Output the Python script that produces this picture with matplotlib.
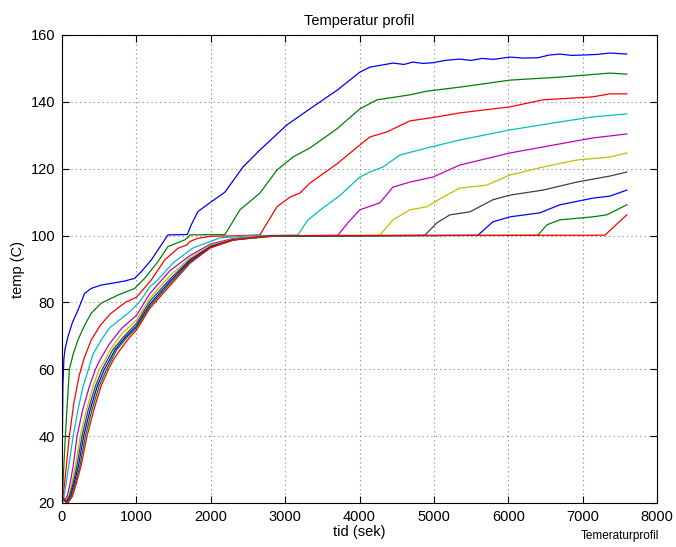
import numpy as np
import matplotlib
matplotlib.use('Agg')
import matplotlib.pyplot as plt

plt.rcParams['font.family'] = ['Liberation Sans', 'DejaVu Sans']

# temperature curves (time in s, temp in C)
t1 = [0, 5, 12, 25, 40, 81, 140, 215, 304, 394, 528, 663, 843, 977, 1066, 1200,
      1290, 1425, 1684, 1738, 1828, 2007, 2191, 2433, 2661, 3024, 3333, 3700, 4005,
      4140, 4300, 4449, 4600, 4718, 4850, 4987, 5150, 5349, 5500, 5650, 5800, 6022,
      6200, 6400, 6550, 6694, 6850, 7000, 7200, 7366, 7594]
y1 = [20, 40, 55, 63, 66, 69.8, 74, 77.7, 82.7, 84.2, 85.2, 85.7, 86.4, 87.2,
      89.2, 92.7, 95.7, 100.2, 100.3, 103.2, 107.2, 110.1, 113, 120.5, 125.6, 133.1,
      137.9, 143.5, 148.9, 150.4, 151, 151.6, 151.2, 151.9, 151.5, 151.7, 152.4,
      152.8, 152.4, 153, 152.7, 153.4, 153.1, 153.2, 154, 154.3, 153.9, 154,
      154.2, 154.6, 154.3]

t2 = [0, 10, 20, 45, 99, 150, 215, 300, 394, 528, 752, 977, 1111, 1290, 1425, 1649,
      1700, 1716, 2191, 2392, 2661, 2890, 3105, 3333, 3700, 4005, 4234, 4677, 4906,
      5349, 6022, 6694, 7366, 7594]
y2 = [20, 24, 29, 40, 60, 64.5, 68.8, 73, 76.8, 79.8, 82.2, 84.2, 87.2, 92.2, 96.7,
      98.7, 99.5, 100.2, 100.3, 107.7, 112.7, 119.6, 123.5, 126.2, 132, 137.9,
      140.6, 142.1, 143.2, 144.4, 146.5, 147.4, 148.6, 148.3]

t3 = [0, 15, 40, 99, 160, 230, 300, 394, 511, 645, 850, 1004, 1200, 1380, 1559, 1680,
      1716, 1828, 2007, 2298, 2661, 2890, 3065, 3199, 3333, 3700, 4005, 4140, 4368,
      4677, 5040, 5349, 6022, 6465, 7137, 7366, 7594]
y3 = [20, 22, 27, 40, 50, 58, 63.5, 68.8, 73, 76.5, 80, 81.6, 86.7, 92.7, 96.2,
      97.2, 98.2, 99.2, 99.8, 99.9, 100.2, 108.6, 111.5, 112.7, 115.7, 121.5, 127.1,
      129.5, 131, 134.3, 135.5, 136.7, 138.5, 140.6, 141.5, 142.4, 142.4]

t4 = [0, 20, 50, 90, 150, 220, 282, 417, 528, 645, 874, 1039, 1183, 1277, 1492, 1761,
      2124, 2487, 3172, 3300, 3468, 3737, 4005, 4140, 4315, 4543, 4906, 5349, 6022,
      6694, 7137, 7594]
y4 = [20, 21, 25, 31, 40, 48.5, 54.7, 64.5, 68.8, 72.5, 76.5, 80, 84.7, 86.5, 91.8,
      96.3, 99.3, 99.9, 100.2, 104.5, 107.6, 112, 117.5, 119, 120.5, 124.1, 126.2,
      128.6, 131.6, 134, 135.5, 136.4]

t5 = [0, 30, 70, 110, 150, 202, 280, 370, 450, 510, 590, 645, 800, 1004, 1183, 1452,
      1720, 2000, 2300, 2700, 3710, 3850, 4005, 4274, 4449, 4677, 4987, 5349, 6022,
      6465, 7137, 7594]
y5 = [21, 20.5, 22, 26, 31, 40, 48, 55, 60, 62.8, 65.8, 67.8, 72.2, 76.2, 82.7,
      89.5, 94, 97.5, 99.1, 99.8, 100.1, 104, 107.7, 109.8, 114.5, 116, 117.5, 121.1,
      124.7, 126.5, 129.2, 130.4]

t6 = [0, 40, 90, 135, 180, 246, 330, 420, 500, 582, 645, 800, 1004, 1183, 1452,
      1720, 2000, 2300, 2700, 4274, 4449, 4677, 4906, 5121, 5349, 5712, 6022, 6465,
      6922, 7366, 7594]
y6 = [21.5, 20.4, 22, 26, 31, 40, 48, 55, 60, 62.8, 65.8, 70.5, 74.8, 81.3, 88,
      93.3, 97.1, 98.9, 99.8, 100.1, 104.7, 107.7, 108.6, 111.5, 114.2, 115.1, 118.1,
      120.5, 122.6, 123.5, 124.7]

t7 = [0, 50, 100, 150, 200, 269, 355, 450, 540, 610, 681, 840, 1004, 1183, 1452,
      1720, 2000, 2300, 2750, 4879, 5040, 5215, 5484, 5793, 6022, 6465, 6922, 7366,
      7594]
y7 = [21.5, 20.3, 22, 26, 31, 40, 48, 55, 60, 62.8, 65.8, 70, 73.8, 80.4, 87,
      92.8, 96.8, 98.8, 99.8, 100.1, 103.8, 106.2, 107.1, 110.7, 112.1, 113.6, 116,
      117.8, 119]

t8 = [0, 60, 115, 165, 220, 291, 380, 475, 570, 640, 712, 860, 1004, 1183, 1452,
      1720, 2000, 2300, 2800, 5591, 5793, 6022, 6425, 6694, 7137, 7366, 7594]
y8 = [22, 20.2, 22, 26, 31, 40, 48, 55, 60, 62.8, 65.8, 69.8, 73, 79.5, 86.3,
      92.4, 96.6, 98.7, 99.8, 100.1, 104.1, 105.6, 106.8, 109.2, 111.2, 111.8, 113.6]

t9 = [0, 70, 125, 180, 240, 314, 405, 500, 600, 665, 735, 880, 1004, 1183, 1452,
      1720, 2000, 2300, 2850, 6398, 6519, 6694, 7137, 7325, 7594]
y9 = [22, 20.1, 22, 26, 31, 40, 48, 55, 60, 62.8, 65.8, 69.7, 72.5, 78.9, 85.7,
      92, 96.4, 98.7, 99.8, 100.1, 103.2, 104.7, 105.6, 106.2, 109.2]

t10 = [0, 80, 140, 195, 255, 336, 430, 525, 625, 690, 780, 900, 1004, 1183, 1452,
       1720, 1989, 2298, 2661, 3200, 7298, 7594]
y10 = [22, 20, 22, 26, 31, 40, 48, 55, 60, 62.8, 65.8, 69.3, 71.8, 78.3, 85,
       91.7, 96.3, 98.6, 99.7, 100, 100.1, 106.2]

times = [t1, t2, t3, t4, t5, t6, t7, t8, t9, t10]
temps = [y1, y2, y3, y4, y5, y6, y7, y8, y9, y10]

# old matlab line colour order
colors = ['#0000ff', '#008000', '#ff0000', '#00bfbf', '#bf00bf',
          '#bfbf00', '#404040', '#0000ff', '#008000', '#ff0000']

fig = plt.figure(figsize=(6.76, 5.47), dpi=100)
ax = fig.add_axes([62 / 676, 1 - 503 / 547, 595 / 676, 468 / 547])

for t, y, c in zip(times, temps, colors):
    ax.plot(t, y, color=c, lw=0.9)

ax.set_xlim(0, 8000)
ax.set_ylim(20, 160)
ax.set_xticks(np.arange(0, 8001, 1000))
ax.set_yticks(np.arange(20, 161, 20))
ax.grid(True, linestyle=(0, (1, 3)), color='#808080', lw=0.8)
ax.tick_params(direction='in', length=5, top=True, right=True, labelsize=10.5,
               width=0.8, pad=5)
for s in ax.spines.values():
    s.set_linewidth(0.8)

ax.set_title('Temperatur profil', fontsize=10.5, pad=7)
ax.set_xlabel('tid (sek)', fontsize=10.5, labelpad=1)
ax.set_ylabel('temp (C)', fontsize=10.5, labelpad=4)
fig.text(0.975, 0.01, 'Temeraturprofil', fontsize=8.5, ha='right', va='bottom')

fig.savefig('out.png', dpi=100)
